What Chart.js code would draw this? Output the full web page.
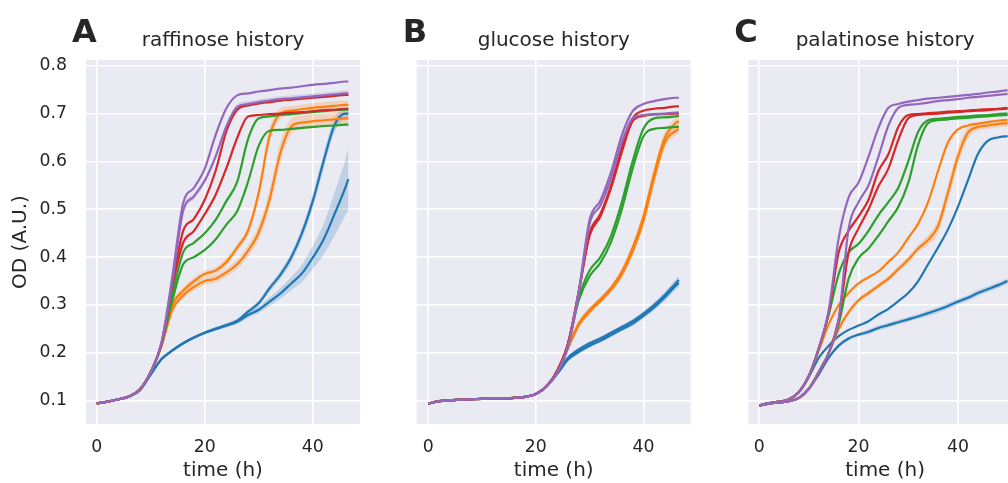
<!DOCTYPE html>
<html>
<head>
<meta charset="utf-8">
<script src="https://cdn.jsdelivr.net/npm/chart.js@4.4.0/dist/chart.umd.min.js"></script>
<style>
  html, body { margin: 0; padding: 0; background: #fff; overflow: hidden; width: 1008px; height: 483px; }
  .panel { position: absolute; top: 0; height: 483px; }
</style>
</head>
<body>
<div class="panel" style="left:0;width:370px"><canvas id="chartA"></canvas></div>
<div class="panel" style="left:380px;width:320px"><canvas id="chartB"></canvas></div>
<div class="panel" style="left:712px;width:320px"><canvas id="chartC"></canvas></div>
<script>
// sampling times (h)
const timeA = [0,2,4,6,8,10,12,14,16,18,20,22,24,26,28,30,32,34,36,38,40,42,44,46,46.6]
const timeB = [0,2,4,6,8,10,12,14,16,18,20,22,24,26,28,30,32,34,36,38,40,42,44,46,46.6]
const timeC = [0,2,4,6,8,10,12,14,16,18,20,22,24,26,28,30,32,34,36,38,40,42,44,46,48,50]

const xTicks = [0, 20, 40]
const yTicks = [0.1, 0.2, 0.3, 0.4, 0.5, 0.6, 0.7, 0.8]

// raffinose history
const raffBlue1 = [0.094,0.098,0.103,0.109,0.122,0.155,0.187,0.205,0.22,0.232,0.242,0.25,0.258,0.267,0.286,0.304,0.335,0.363,0.399,0.45,0.517,0.6,0.675,0.70,0.70]
const raffBlue2 = [0.094,0.098,0.103,0.109,0.122,0.155,0.187,0.205,0.22,0.232,0.242,0.25,0.257,0.265,0.279,0.29,0.307,0.324,0.345,0.366,0.399,0.437,0.489,0.544,0.563]
const raffOrange1 = [0.094,0.098,0.103,0.109,0.124,0.16,0.215,0.30,0.33,0.35,0.365,0.372,0.39,0.42,0.455,0.535,0.653,0.70,0.706,0.709,0.712,0.714,0.716,0.718,0.718]
const raffOrange2 = [0.094,0.098,0.103,0.109,0.124,0.16,0.215,0.29,0.32,0.338,0.35,0.355,0.368,0.385,0.413,0.452,0.521,0.618,0.673,0.681,0.684,0.686,0.688,0.69,0.69]
const raffGreen1 = [0.094,0.098,0.103,0.109,0.124,0.16,0.218,0.322,0.41,0.43,0.45,0.478,0.517,0.557,0.646,0.69,0.694,0.697,0.699,0.701,0.703,0.705,0.707,0.708,0.708]
const raffGreen2 = [0.094,0.098,0.103,0.109,0.124,0.16,0.218,0.31,0.385,0.40,0.415,0.437,0.468,0.496,0.557,0.633,0.664,0.666,0.668,0.67,0.672,0.674,0.675,0.677,0.677]
const raffRed1 = [0.094,0.098,0.103,0.109,0.124,0.16,0.22,0.345,0.455,0.48,0.52,0.58,0.663,0.708,0.717,0.721,0.724,0.727,0.729,0.731,0.733,0.735,0.737,0.739,0.739]
const raffRed2 = [0.094,0.098,0.103,0.109,0.124,0.16,0.22,0.34,0.43,0.455,0.49,0.53,0.586,0.649,0.694,0.697,0.699,0.70,0.702,0.703,0.705,0.707,0.708,0.71,0.71]
const raffPurple1 = [0.094,0.098,0.103,0.109,0.124,0.16,0.222,0.36,0.513,0.545,0.585,0.655,0.711,0.738,0.742,0.746,0.749,0.752,0.754,0.757,0.76,0.762,0.764,0.767,0.767]
const raffPurple2 = [0.094,0.098,0.103,0.109,0.124,0.16,0.22,0.35,0.497,0.527,0.56,0.61,0.673,0.714,0.72,0.724,0.727,0.73,0.732,0.734,0.736,0.738,0.74,0.742,0.742]
// half-width of the shaded bands
const raffBlue1Band = [0.002,0.002,0.002,0.002,0.002,0.002,0.003,0.003,0.003,0.003,0.003,0.004,0.004,0.004,0.005,0.006,0.007,0.008,0.01,0.012,0.015,0.016,0.015,0.01,0.008]
const raffBlue2Band = [0.002,0.002,0.002,0.002,0.002,0.002,0.003,0.003,0.003,0.003,0.003,0.004,0.004,0.005,0.006,0.007,0.009,0.011,0.014,0.018,0.024,0.032,0.045,0.058,0.065]
const raffOrange1Band = [0.002,0.002,0.002,0.002,0.002,0.003,0.004,0.006,0.007,0.007,0.007,0.007,0.008,0.008,0.009,0.012,0.015,0.012,0.01,0.01,0.01,0.01,0.01,0.01,0.01]
const raffOrange2Band = [0.002,0.002,0.002,0.002,0.002,0.003,0.004,0.007,0.008,0.008,0.008,0.008,0.009,0.01,0.012,0.015,0.02,0.022,0.016,0.015,0.015,0.015,0.015,0.015,0.015]
const raffPurple2Band = [0.002,0.002,0.002,0.002,0.002,0.003,0.004,0.005,0.006,0.006,0.006,0.006,0.006,0.006,0.006,0.006,0.006,0.006,0.006,0.006,0.006,0.006,0.006,0.006,0.006]

// glucose history
const glucBlue1 = [0.094,0.099,0.101,0.102,0.103,0.104,0.105,0.105,0.106,0.108,0.114,0.13,0.158,0.19,0.207,0.22,0.23,0.242,0.254,0.266,0.282,0.30,0.321,0.345,0.352]
const glucBlue2 = [0.094,0.099,0.101,0.102,0.103,0.104,0.105,0.105,0.106,0.108,0.114,0.13,0.156,0.186,0.202,0.215,0.225,0.237,0.249,0.261,0.277,0.295,0.316,0.34,0.346]
const glucOrange1 = [0.094,0.099,0.101,0.102,0.103,0.104,0.105,0.105,0.106,0.108,0.114,0.13,0.16,0.212,0.262,0.29,0.312,0.336,0.37,0.42,0.485,0.575,0.65,0.68,0.684]
const glucOrange2 = [0.094,0.099,0.101,0.102,0.103,0.104,0.105,0.105,0.106,0.108,0.114,0.13,0.16,0.21,0.258,0.286,0.308,0.332,0.364,0.412,0.475,0.565,0.64,0.664,0.668]
const glucGreen1 = [0.094,0.099,0.101,0.102,0.103,0.104,0.105,0.105,0.106,0.108,0.114,0.13,0.162,0.218,0.315,0.372,0.40,0.445,0.515,0.60,0.668,0.69,0.692,0.694,0.695]
const glucGreen2 = [0.094,0.099,0.101,0.102,0.103,0.104,0.105,0.105,0.106,0.108,0.114,0.13,0.162,0.218,0.31,0.36,0.388,0.432,0.50,0.585,0.652,0.668,0.67,0.672,0.672]
const glucRed1 = [0.094,0.099,0.101,0.102,0.103,0.104,0.105,0.105,0.106,0.108,0.114,0.13,0.163,0.22,0.33,0.45,0.49,0.55,0.628,0.69,0.706,0.71,0.712,0.715,0.715]
const glucRed2 = [0.094,0.099,0.101,0.102,0.103,0.104,0.105,0.105,0.106,0.108,0.114,0.13,0.163,0.22,0.328,0.445,0.485,0.545,0.62,0.684,0.695,0.698,0.699,0.70,0.70]
const glucPurple1 = [0.094,0.099,0.101,0.102,0.103,0.104,0.105,0.105,0.106,0.108,0.114,0.13,0.16,0.215,0.33,0.478,0.518,0.578,0.655,0.705,0.72,0.726,0.73,0.733,0.733]
const glucPurple2 = [0.094,0.099,0.101,0.102,0.103,0.104,0.105,0.105,0.106,0.108,0.114,0.13,0.158,0.212,0.325,0.47,0.508,0.565,0.64,0.69,0.697,0.699,0.70,0.702,0.702]
const glucBlueBand = [0.002,0.002,0.002,0.002,0.002,0.002,0.002,0.002,0.002,0.002,0.002,0.003,0.003,0.004,0.004,0.004,0.004,0.004,0.004,0.005,0.005,0.006,0.007,0.008,0.009]
const glucOrangeBand = [0.002,0.002,0.002,0.002,0.002,0.002,0.002,0.002,0.002,0.002,0.002,0.003,0.003,0.004,0.005,0.005,0.005,0.006,0.007,0.008,0.01,0.012,0.012,0.01,0.01]

// palatinose history
const palaBlue1 = [0.09,0.095,0.098,0.103,0.118,0.15,0.19,0.215,0.235,0.248,0.257,0.266,0.28,0.292,0.308,0.325,0.35,0.385,0.42,0.458,0.505,0.56,0.615,0.643,0.65,0.653]
const palaBlue2 = [0.09,0.094,0.096,0.099,0.106,0.125,0.155,0.19,0.215,0.23,0.238,0.244,0.252,0.258,0.264,0.27,0.276,0.283,0.29,0.298,0.307,0.315,0.325,0.333,0.341,0.35]
const palaOrange1 = [0.09,0.095,0.098,0.103,0.118,0.152,0.205,0.26,0.30,0.325,0.345,0.358,0.37,0.39,0.41,0.44,0.47,0.515,0.58,0.64,0.667,0.675,0.679,0.682,0.685,0.687]
const palaOrange2 = [0.09,0.094,0.096,0.099,0.106,0.125,0.16,0.20,0.25,0.285,0.31,0.325,0.34,0.355,0.375,0.395,0.418,0.436,0.465,0.535,0.61,0.66,0.672,0.675,0.678,0.68]
const palaGreen1 = [0.09,0.095,0.098,0.103,0.118,0.152,0.21,0.28,0.365,0.41,0.428,0.455,0.488,0.515,0.545,0.60,0.662,0.686,0.689,0.691,0.693,0.694,0.696,0.697,0.699,0.70]
const palaGreen2 = [0.09,0.094,0.096,0.099,0.106,0.125,0.16,0.20,0.26,0.355,0.398,0.418,0.445,0.475,0.505,0.555,0.635,0.68,0.686,0.688,0.69,0.691,0.693,0.694,0.696,0.697]
const palaRed1 = [0.09,0.095,0.098,0.103,0.118,0.152,0.21,0.285,0.41,0.455,0.485,0.52,0.58,0.615,0.672,0.697,0.699,0.701,0.702,0.704,0.705,0.706,0.708,0.709,0.71,0.712]
const palaRed2 = [0.09,0.094,0.096,0.099,0.106,0.125,0.16,0.20,0.27,0.41,0.46,0.50,0.548,0.585,0.645,0.69,0.697,0.699,0.70,0.702,0.703,0.705,0.706,0.707,0.709,0.71]
const palaPurple1 = [0.09,0.095,0.098,0.103,0.118,0.152,0.21,0.29,0.44,0.525,0.556,0.61,0.67,0.712,0.72,0.725,0.728,0.731,0.733,0.735,0.737,0.739,0.741,0.744,0.746,0.749]
const palaPurple2 = [0.09,0.094,0.096,0.099,0.106,0.125,0.16,0.20,0.27,0.46,0.515,0.55,0.61,0.675,0.712,0.718,0.72,0.723,0.726,0.728,0.73,0.733,0.735,0.737,0.739,0.741]
const palaBlue2Band = [0.002,0.002,0.002,0.002,0.002,0.002,0.003,0.003,0.004,0.004,0.004,0.005,0.005,0.005,0.005,0.005,0.005,0.006,0.006,0.006,0.006,0.006,0.006,0.006,0.006,0.006]
const palaOrange2Band = [0.002,0.002,0.002,0.002,0.002,0.002,0.003,0.004,0.005,0.005,0.005,0.005,0.005,0.006,0.006,0.007,0.008,0.01,0.014,0.018,0.018,0.012,0.008,0.007,0.007,0.007]

const BLUE = '#1f77b4', ORANGE = '#ff7f0e', GREEN = '#2ca02c', RED = '#d62728', PURPLE = '#9467bd'
const INK = '#262626'
const FONT = "'DejaVu Sans', sans-serif"

function rgba(hex, a) {
    const n = parseInt(hex.slice(1), 16)
    return `rgba(${n >> 16},${(n >> 8) & 255},${n & 255},${a})`
}

function buildDatasets(times, series) {
    let ds = []
    // shaded bands go underneath every line
    series.forEach(s => {
        if (!s.band) return
        ds.push({
            data: times.map((t, i) => ({x: t, y: s.values[i] + s.band[i]})),
            fill: '+1', backgroundColor: rgba(s.color, 0.22),
            borderWidth: 0, pointRadius: 0, cubicInterpolationMode: 'monotone'
        })
        ds.push({
            data: times.map((t, i) => ({x: t, y: s.values[i] - s.band[i]})),
            fill: false, borderWidth: 0, pointRadius: 0, cubicInterpolationMode: 'monotone'
        })
    })
    series.forEach(s => {
        ds.push({
            data: times.map((t, i) => ({x: t, y: s.values[i]})),
            borderColor: s.color, borderWidth: 2.2, pointRadius: 0,
            fill: false, cubicInterpolationMode: 'monotone'
        })
    })
    // later datasets sit on top
    ds.forEach((d, i) => { d.order = ds.length - i })
    return ds
}

const plotBackground = {
    id: 'plotBackground',
    beforeDraw(chart) {
        const {ctx, chartArea: a} = chart
        ctx.save()
        ctx.fillStyle = '#eaeaf2'
        ctx.fillRect(a.left, a.top, a.right - a.left, a.bottom - a.top)
        ctx.restore()
    }
}

const panelLetter = {
    id: 'panelLetter',
    afterDraw(chart, args, opts) {
        const {ctx, chartArea: a} = chart
        ctx.save()
        ctx.font = `bold 32px ${FONT}`
        ctx.fillStyle = INK
        ctx.textBaseline = 'alphabetic'
        ctx.fillText(opts.text, a.left - 14, 42)
        ctx.restore()
    }
}

function makePanel(id, p) {
    new Chart(document.getElementById(id), {
        type: 'line',
        data: {datasets: buildDatasets(p.times, p.series)},
        options: {
            responsive: true,
            maintainAspectRatio: false,
            animation: false,
            layout: {padding: {left: 0, right: p.rightPad, top: 0, bottom: 0}},
            plugins: {
                legend: {display: false},
                tooltip: {enabled: false},
                title: {
                    display: true, text: p.title, fullSize: false, color: INK,
                    font: {family: FONT, size: 20, weight: 'normal'},
                    padding: {top: 28.6, bottom: 7.4}
                },
                panelLetter: {text: p.letter}
            },
            scales: {
                x: {
                    type: 'linear', min: p.xMin, max: p.xMax,
                    afterBuildTicks: s => { s.ticks = xTicks.map(v => ({value: v})) },
                    afterFit: s => { s.height = 59 },
                    grid: {color: '#ffffff', lineWidth: 1.6, drawTicks: false},
                    border: {display: false},
                    ticks: {color: INK, padding: 13.5, font: {family: FONT, size: 17.3}},
                    title: {
                        display: true, text: 'time (h)', color: INK,
                        font: {family: FONT, size: 20}, padding: {top: 0, bottom: 0}
                    }
                },
                y: {
                    type: 'linear', min: 0.0513, max: 0.8119,
                    afterBuildTicks: s => { s.ticks = yTicks.map(v => ({value: v})) },
                    afterFit: s => { s.width = p.yWidth },
                    grid: {color: '#ffffff', lineWidth: 1.6, drawTicks: false},
                    border: {display: false},
                    ticks: {
                        display: p.showY, color: INK, padding: 19,
                        font: {family: FONT, size: 17.3},
                        callback: v => v.toFixed(1)
                    },
                    title: {
                        display: p.showY, text: 'OD (A.U.)', color: INK,
                        font: {family: FONT, size: 20}, padding: {top: 9, bottom: 0}
                    }
                }
            }
        },
        plugins: [plotBackground, panelLetter]
    })
}

makePanel('chartA', {
    times: timeA, title: 'raffinose history', letter: 'A',
    xMin: -2.0, xMax: 48.75, yWidth: 86, rightPad: 10, showY: true,
    series: [
        {color: BLUE, values: raffBlue1, band: raffBlue1Band},
        {color: BLUE, values: raffBlue2, band: raffBlue2Band},
        {color: ORANGE, values: raffOrange1, band: raffOrange1Band},
        {color: ORANGE, values: raffOrange2, band: raffOrange2Band},
        {color: GREEN, values: raffGreen1},
        {color: GREEN, values: raffGreen2},
        {color: RED, values: raffRed1},
        {color: RED, values: raffRed2},
        {color: PURPLE, values: raffPurple1},
        {color: PURPLE, values: raffPurple2, band: raffPurple2Band}
    ]
})

makePanel('chartB', {
    times: timeB, title: 'glucose history', letter: 'B',
    xMin: -2.15, xMax: 48.8, yWidth: 36.7, rightPad: 9.3, showY: false,
    series: [
        {color: BLUE, values: glucBlue1, band: glucBlueBand},
        {color: BLUE, values: glucBlue2, band: glucBlueBand},
        {color: ORANGE, values: glucOrange1, band: glucOrangeBand},
        {color: ORANGE, values: glucOrange2, band: glucOrangeBand},
        {color: GREEN, values: glucGreen1},
        {color: GREEN, values: glucGreen2},
        {color: RED, values: glucRed1},
        {color: RED, values: glucRed2},
        {color: PURPLE, values: glucPurple1},
        {color: PURPLE, values: glucPurple2}
    ]
})

makePanel('chartC', {
    times: timeC, title: 'palatinose history', letter: 'C',
    xMin: -2.2, xMax: 52.9, yWidth: 36.3, rightPad: 10, showY: false,
    series: [
        {color: BLUE, values: palaBlue1},
        {color: BLUE, values: palaBlue2, band: palaBlue2Band},
        {color: ORANGE, values: palaOrange1},
        {color: ORANGE, values: palaOrange2, band: palaOrange2Band},
        {color: GREEN, values: palaGreen1},
        {color: GREEN, values: palaGreen2},
        {color: RED, values: palaRed1},
        {color: RED, values: palaRed2},
        {color: PURPLE, values: palaPurple1},
        {color: PURPLE, values: palaPurple2}
    ]
})
</script>
</body>
</html>
